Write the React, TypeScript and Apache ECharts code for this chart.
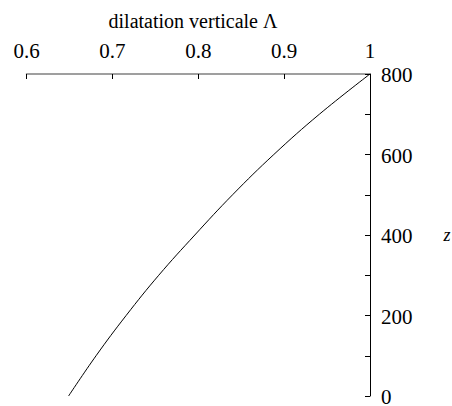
import React, { useEffect, useRef } from "react";
import * as echarts from "echarts";

const zValues = [0, 100, 200, 300, 400, 500, 600, 700, 800];
const lambdaValues = [0.649, 0.681, 0.716, 0.754, 0.796, 0.84, 0.888, 0.941, 1.0];
const xTickLabels = [0.6, 0.7, 0.8, 0.9, 1];
const yTickLabels = [0, 200, 400, 600, 800];
const xTitle = "dilatation verticale Λ";
const yTitle = "z";

export default function App() {
  const ref = useRef<HTMLDivElement>(null);
  useEffect(() => {
    if (!ref.current) return;
    const chart = echarts.init(ref.current, undefined, { renderer: "svg" });
    const font = "Liberation Serif";
    chart.setOption({
      animation: false,
      grid: { left: 26.5, right: 82, top: 74, bottom: 10 },
      xAxis: {
        type: "value",
        position: "top",
        min: 0.6,
        max: 1,
        interval: 0.1,
        axisLine: { onZero: false, lineStyle: { color: "#808080", width: 1.5 } },
        axisTick: { inside: true, length: 5, lineStyle: { color: "#000" } },
        axisLabel: { show: false },
        splitLine: { show: false },
      },
      yAxis: {
        type: "value",
        position: "right",
        min: 0,
        max: 800,
        interval: 100,
        axisLine: { onZero: false, lineStyle: { color: "#000", width: 1 } },
        axisTick: { inside: true, length: 5, lineStyle: { color: "#000" } },
        axisLabel: { show: false },
        splitLine: { show: false },
      },
      series: [
        {
          type: "line",
          data: zValues.map((z, i) => [lambdaValues[i], z]),
          smooth: 0.4,
          symbol: "none",
          lineStyle: { color: "#000", width: 1 },
        },
      ],
    });

    const toPx = (x: number, y: number) =>
      chart.convertToPixel({ gridIndex: 0 }, [x, y]) as number[];
    const top = toPx(0.6, 800)[1];
    const right = toPx(1, 800)[0];
    const midY = toPx(1, 400)[1];

    const graphics: any[] = [];
    xTickLabels.forEach((v) => {
      const p = toPx(v, 800);
      graphics.push({
        type: "text",
        x: p[0],
        y: top - 23,
        style: {
          text: String(v),
          fontFamily: font,
          fontSize: 21,
          fill: "#000",
          align: "center",
          verticalAlign: "middle",
        },
      });
    });
    yTickLabels.forEach((v) => {
      const p = toPx(1, v);
      graphics.push({
        type: "text",
        x: right + 11,
        y: p[1] + 1,
        style: {
          text: String(v),
          fontFamily: font,
          fontSize: 21,
          fill: "#000",
          align: "left",
          verticalAlign: "middle",
        },
      });
    });
    graphics.push({
      type: "text",
      x: 193,
      y: 21,
      style: {
        text: xTitle,
        fontFamily: font,
        fontSize: 20,
        fill: "#000",
        align: "center",
        verticalAlign: "middle",
      },
    });
    graphics.push({
      type: "text",
      x: 447,
      y: midY,
      style: {
        text: yTitle,
        fontFamily: font,
        fontSize: 18,
        fontStyle: "italic",
        fill: "#000",
        align: "center",
        verticalAlign: "middle",
      },
    });
    chart.setOption({ graphic: graphics });

    return () => chart.dispose();
  }, []);
  return <div ref={ref} style={{ width: 452, height: 406, position: "absolute", left: 0, top: 0 }} />;
}
